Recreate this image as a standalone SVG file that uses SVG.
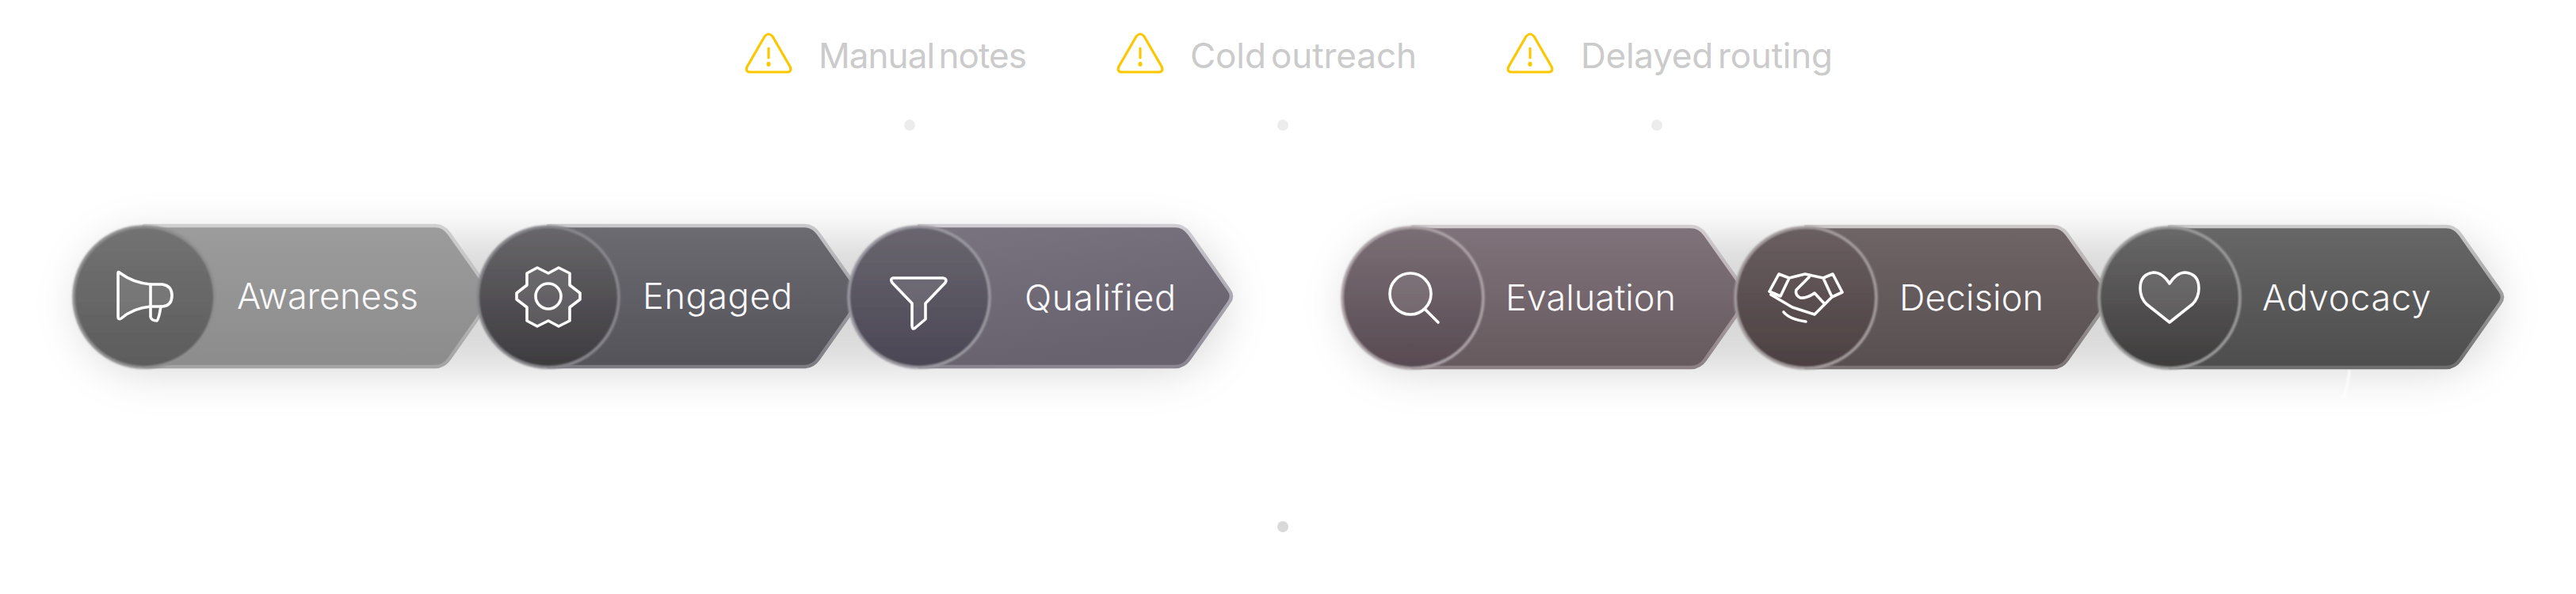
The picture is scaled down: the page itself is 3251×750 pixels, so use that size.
<svg xmlns="http://www.w3.org/2000/svg" width="3251" height="750" viewBox="0 0 3251 750">
<defs>
<style>
text{font-family:Inter,"Liberation Sans",sans-serif}
.t{font-size:45px;font-weight:350;fill:#f9f8fa}
.w{font-size:44px;fill:#cbcbcb;word-spacing:-6px}
.i{fill:#fff;fill-opacity:.1;stroke:#fff;stroke-width:3.6;stroke-linecap:round;stroke-linejoin:round}
.ic{fill:none;stroke:#fff;stroke-width:3.6;stroke-linecap:round;stroke-linejoin:round}
.y{fill:none;stroke:#fdc700;stroke-width:3.2;stroke-linecap:round;stroke-linejoin:round}
.yd{fill:#fdc700}
.dot{fill:#ececec}
.dot2{fill:#d9d9d9}
.p{stroke-width:4.5;stroke-linejoin:round}
.c{stroke-width:3.5;filter:url(#cb)}
</style>
<filter id="sh" x="-30%" y="-60%" width="160%" height="220%"><feGaussianBlur stdDeviation="27"/></filter>
<filter id="cb" x="-5%" y="-5%" width="110%" height="110%"><feGaussianBlur stdDeviation=".8"/></filter>
<filter id="st" x="-300%" y="-20%" width="700%" height="140%"><feGaussianBlur stdDeviation="1"/></filter>
<linearGradient id="p1" x1="0" y1="0" x2="0" y2="1"><stop offset="0" stop-color="#9c9c9c"/><stop offset="1" stop-color="#8c8c8c"/></linearGradient>
<linearGradient id="p2" x1="0" y1="0" x2="0" y2="1"><stop offset="0" stop-color="#6c6b72"/><stop offset="1" stop-color="#54535a"/></linearGradient>
<linearGradient id="p3" x1="0" y1="0" x2=".3" y2="1"><stop offset="0" stop-color="#7a7380"/><stop offset="1" stop-color="#67626d"/></linearGradient>
<linearGradient id="p4" x1="0" y1="0" x2="0" y2="1"><stop offset="0" stop-color="#80727a"/><stop offset="1" stop-color="#665a5e"/></linearGradient>
<linearGradient id="p5" x1="0" y1="0" x2="0" y2="1"><stop offset="0" stop-color="#6f6466"/><stop offset="1" stop-color="#585050"/></linearGradient>
<linearGradient id="p6" x1="0" y1="0" x2="0" y2="1"><stop offset="0" stop-color="#676767"/><stop offset="1" stop-color="#4d4d4d"/></linearGradient>
<linearGradient id="s1" x1="0" y1="0" x2="0" y2="1"><stop offset="0" stop-color="#d0d0d0"/><stop offset="1" stop-color="#a4a4a4"/></linearGradient>
<linearGradient id="s2" x1="0" y1="0" x2="0" y2="1"><stop offset="0" stop-color="#c8c8cb"/><stop offset="1" stop-color="#7c7b82"/></linearGradient>
<linearGradient id="s3" x1="0" y1="0" x2="0" y2="1"><stop offset="0" stop-color="#cfccd3"/><stop offset="1" stop-color="#8a8591"/></linearGradient>
<linearGradient id="s4" x1="0" y1="0" x2="0" y2="1"><stop offset="0" stop-color="#d3cdd0"/><stop offset="1" stop-color="#8c8084"/></linearGradient>
<linearGradient id="s5" x1="0" y1="0" x2="0" y2="1"><stop offset="0" stop-color="#cdc8c8"/><stop offset="1" stop-color="#7c7474"/></linearGradient>
<linearGradient id="s6" x1="0" y1="0" x2="0" y2="1"><stop offset="0" stop-color="#cbcbcb"/><stop offset="1" stop-color="#6e6e6e"/></linearGradient>
<linearGradient id="c1" x1="0" y1="0" x2="0" y2="1"><stop offset="0" stop-color="#737373"/><stop offset="1" stop-color="#5c5c5c"/></linearGradient>
<linearGradient id="c2" x1="0" y1="0" x2="0" y2="1"><stop offset="0" stop-color="#68676b"/><stop offset="1" stop-color="#3c3b3f"/></linearGradient>
<linearGradient id="c3" x1="0" y1="0" x2="0" y2="1"><stop offset="0" stop-color="#6a6670"/><stop offset="1" stop-color="#4a4654"/></linearGradient>
<linearGradient id="c4" x1="0" y1="0" x2="0" y2="1"><stop offset="0" stop-color="#7b6f76"/><stop offset="1" stop-color="#584a52"/></linearGradient>
<linearGradient id="c5" x1="0" y1="0" x2="0" y2="1"><stop offset="0" stop-color="#6a5f61"/><stop offset="1" stop-color="#4c4041"/></linearGradient>
<linearGradient id="c6" x1="0" y1="0" x2="0" y2="1"><stop offset="0" stop-color="#696969"/><stop offset="1" stop-color="#3e3c3c"/></linearGradient>
<path id="tri" d="M-5-44Q0-50 5-44L27-6Q30 1 23 1H-23Q-30 1-27-6Z"/>
</defs>
<rect width="3251" height="750" fill="#fff"/>
<g id="shadows" fill="#000" fill-opacity=".15" filter="url(#sh)">
<rect x="100" y="298" width="1445" height="172" rx="85"/>
<rect x="1700" y="298" width="1450" height="172" rx="85"/>
</g>
<path d="M2965 467Q2964 485 2957 503" fill="none" stroke="#fff" stroke-width="3" stroke-opacity=".8" filter="url(#st)"/>
<g id="connectors"/>
<g id="warn1"><use href="#tri" class="y" x="970" y="90"/><path class="y" d="M970 61V73"/><ellipse class="yd" cx="970" cy="81" rx="2.6" ry="3"/><text class="w" x="1033" y="86" textLength="263" lengthAdjust="spacing">Manual notes</text></g>
<g id="warn2"><use href="#tri" class="y" x="1439" y="90"/><path class="y" d="M1439 61V73"/><ellipse class="yd" cx="1439" cy="81" rx="2.6" ry="3"/><text class="w" x="1502" y="86" textLength="286" lengthAdjust="spacing">Cold outreach</text></g>
<g id="warn3"><use href="#tri" class="y" x="1931" y="90"/><path class="y" d="M1931 61V73"/><ellipse class="yd" cx="1931" cy="81" rx="2.6" ry="3"/><text class="w" x="1995" y="86" textLength="318" lengthAdjust="spacing">Delayed routing</text></g>
<g id="dots"><circle class="dot" cx="1148" cy="158" r="7"/><circle class="dot" cx="1619" cy="158" r="7"/><circle class="dot" cx="2091" cy="158" r="7"/><circle class="dot2" cx="1619" cy="665" r="7"/></g>

<g id="awareness">
<path class="p" fill="url(#p1)" stroke="url(#s1)" d="M182 285H549Q560 285 567 295L617 366Q622 374 617 382L567 453Q560 463 549 463H182Z"/>
<circle class="c" cx="182" cy="375" r="89" fill="url(#c1)" stroke="#8f8f8f"/>
<path class="i" d="M149 345Q149 342 152 345Q168 357 190 359H205Q217 361 217 373Q217 386 205 387H190Q168 389 153 402Q149 404 149 400Z"/><path class="ic" d="M190 359V400Q191 405 198 405Q200 405 203 387"/>
<text class="t" x="299" y="390" textLength="229" lengthAdjust="spacing">Awareness</text>
</g>
<g id="engaged">
<path class="p" fill="url(#p2)" stroke="url(#s2)" d="M692 285H1015Q1026 285 1033 295L1083 366Q1088 374 1083 382L1033 453Q1026 463 1015 463H692Z"/>
<circle class="c" cx="692" cy="375" r="89" fill="url(#c2)" stroke="#88878c"/>
<path class="i" d="M692 345L678 338L665 345V360L652 370V378L665 388V405L678 412L692 405L705 412L719 405V388L732 378V370L719 360V345L705 338Z"/><circle class="ic" cx="692" cy="374" r="16"/>
<text class="t" x="811" y="390" textLength="189" lengthAdjust="spacing">Engaged</text>
</g>
<g id="qualified">
<path class="p" fill="url(#p3)" stroke="url(#s3)" d="M1160 285H1483Q1494 285 1501 295L1551 366Q1557 374 1551 382L1501 453Q1494 463 1483 463H1160Z"/>
<circle class="c" cx="1160" cy="375" r="89" fill="url(#c3)" stroke="#9a97a0"/>
<path class="i" d="M1127 351H1190Q1196 352 1193 357L1168 383V403L1155 414Q1151 417 1151 411V383L1126 357Q1123 352 1127 351Z"/>
<text class="t" x="1293" y="392" textLength="191" lengthAdjust="spacing">Qualified</text>
</g>
<g id="evaluation">
<path class="p" fill="url(#p4)" stroke="url(#s4)" d="M1783 286H2134Q2145 286 2152 296L2202 367Q2207 375 2202 383L2152 454Q2145 464 2134 464H1783Z"/>
<circle class="c" cx="1783" cy="376" r="89" fill="url(#c4)" stroke="#aaa1a6"/>
<circle class="i" cx="1780" cy="371" r="26"/><path class="ic" d="M1799 391L1815 407"/>
<text class="t" x="1900" y="392" textLength="215" lengthAdjust="spacing">Evaluation</text>
</g>
<g id="decision">
<path class="p" fill="url(#p5)" stroke="url(#s5)" d="M2279 286H2591Q2602 286 2609 296L2659 367Q2664 375 2659 383L2609 454Q2602 464 2591 464H2279Z"/>
<circle class="c" cx="2279" cy="376" r="89" fill="url(#c5)" stroke="#a39b9c"/>
<path class="ic" d="M2233 368L2245 346L2258 351L2247 374ZM2325 369L2313 346L2301 351L2312 375ZM2258 351L2278 346L2301 351M2283 350L2267 366Q2265 372 2272 376Q2280 377 2290 370L2303 384M2235 372L2262 388L2290 397L2312 375"/><path class="ic" d="M2251 394Q2258 403 2279 406"/>
<text class="t" x="2397" y="392" textLength="182" lengthAdjust="spacing">Decision</text>
</g>
<g id="advocacy">
<path class="p" fill="url(#p6)" stroke="url(#s6)" d="M2738 286H3087Q3098 286 3105 296L3155 367Q3161 375 3155 383L3105 454Q3098 464 3087 464H2738Z"/>
<circle class="c" cx="2738" cy="376" r="89" fill="url(#c6)" stroke="#9a9a9a"/>
<path class="i" d="M2738 358Q2747 344 2758 344Q2775 346 2775 364Q2775 376 2767 384L2738 407L2709 384Q2701 376 2701 364Q2701 346 2718 344Q2729 344 2738 358Z"/>
<text class="t" x="2855" y="392" textLength="213" lengthAdjust="spacing">Advocacy</text>
</g>
</svg>
